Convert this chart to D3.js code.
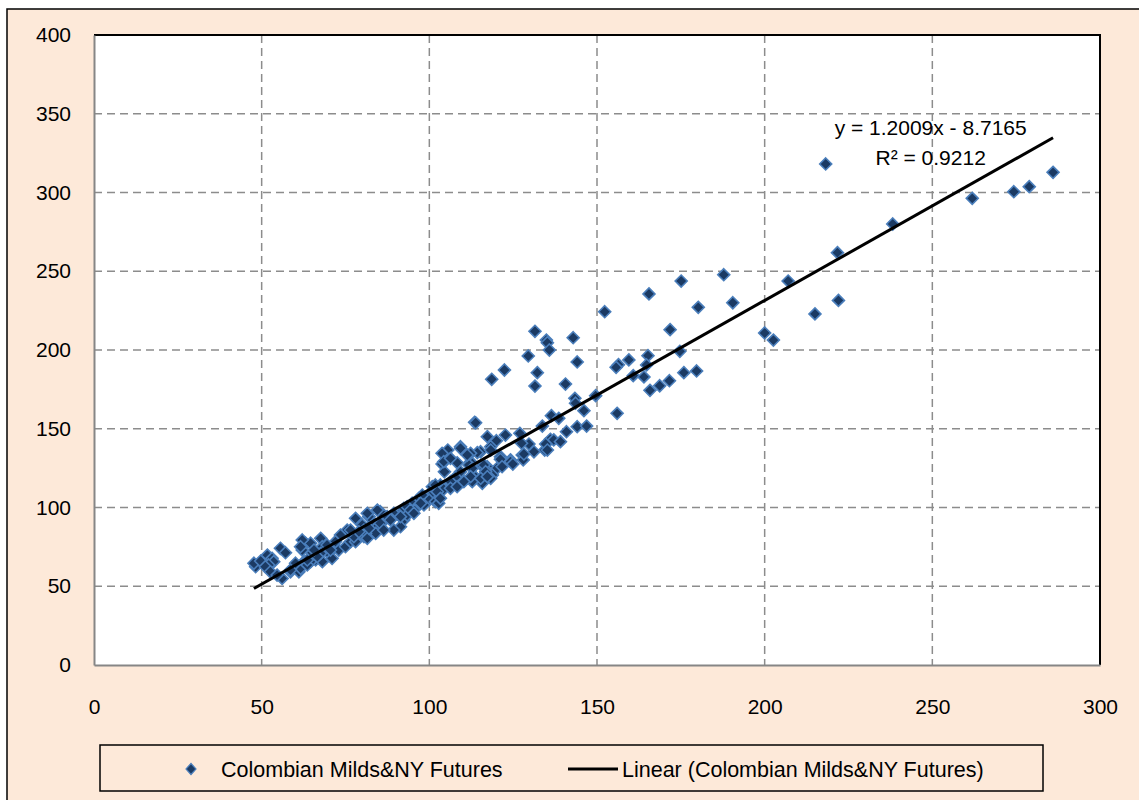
<!DOCTYPE html>
<html>
<head>
<meta charset="utf-8">
<script src="https://cdn.jsdelivr.net/npm/d3@7"></script>
<style>
    body { margin: 0; background: #ffffff; }
    text { font-family: "Liberation Sans", Arial, sans-serif; fill: #000; }
</style>
</head>
<body>
<div id="chart"></div>
<script>
// tick values of both axes
var xTicks = [0, 50, 100, 150, 200, 250, 300];
var yTicks = [0, 50, 100, 150, 200, 250, 300, 350, 400];

// Colombian Milds (x) against NY Futures (y)
var mildsVsFutures = [
    [286.0,312.8],[278.9,303.7],[274.3,300.5],[261.9,296.3],[238.2,280.0],[218.2,318.1],[221.7,261.8],[222.0,231.5],
    [207.0,243.8],[215.0,222.9],[200.0,210.8],[202.6,206.3],[187.8,247.8],[190.5,230.0],[180.2,227.1],[175.1,243.8],
    [165.5,235.6],[171.8,212.9],[174.7,199.2],[152.3,224.3],[156.4,190.7],[155.7,189.0],[159.5,193.7],[165.2,196.4],
    [164.8,190.5],[160.8,183.7],[164.0,182.9],[165.8,174.4],[168.7,177.3],[171.6,180.5],[175.9,185.6],[179.7,186.7],
    [149.6,171.0],[156.0,159.8],
    [131.5,211.9],[142.9,207.8],[134.9,206.3],[135.2,204.6],[135.8,200.0],[129.5,196.2],[144.1,192.4],[122.4,187.3],
    [132.2,185.6],[118.6,181.4],[131.5,177.1],[140.6,178.4],[143.4,169.3],[143.6,166.2],[146.1,161.5],[140.9,148.1],
    [144.1,151.3],[146.9,151.7],[136.4,158.3],[138.6,156.6],[133.7,151.7],[127.0,147.1],[136.1,143.3],[137.1,142.9],
    [139.1,141.8],[134.4,136.5],[131.2,135.4],[129.7,140.3],[127.5,140.8],[122.7,146.0],[117.3,145.0],[120.0,142.4],
    [127.7,133.3],[128.0,130.2],[115.3,135.4],[118.3,138.6],[121.2,132.3],[124.2,130.2],[117.3,125.9],[120.2,124.9],
    [113.5,154.1],[134.7,140.3],[128.2,134.0],[135.2,136.5],[118.3,136.5],[114.3,134.8],[121.2,130.6],[124.2,129.1],
    [124.9,127.6],[112.3,129.1],[115.8,126.3],[116.5,124.9],[113.8,119.2],[118.8,120.6],[121.7,125.9],[115.8,115.4],
    [112.8,116.4],[118.3,118.5],
    [105.5,136.5],[109.3,138.6],[103.8,127.6],[104.5,122.7],[108.3,128.4],[112.3,134.4],[111.8,127.0],[112.8,124.9],
    [109.3,122.7],[116.3,127.0],[116.8,122.7],[107.8,119.2],[106.3,116.4],[112.3,119.6],[115.3,118.5],[117.3,119.6],
    [103.3,114.3],[104.3,111.6],[101.8,109.0],[100.2,106.9],[99.9,104.8],[106.3,112.2],[108.3,113.2],[110.3,116.4],
    [96.9,105.8],[97.9,107.9],[101.8,103.7],[102.8,102.7],[98.4,101.6],[94.9,102.7],[95.4,98.4],[92.4,99.5],
    [90.9,95.2],[89.4,96.3],[88.4,93.1],[85.4,97.3],[86.9,92.5],[82.0,94.2],[83.4,90.0],[84.5,87.8],
    [80.0,88.9],[80.5,85.7],[92.4,92.1],[93.4,95.2],[80.5,81.5],[84.0,83.6],[91.4,87.8],[113.8,153.8],
    [103.8,134.4],[104.3,129.1],[109.3,137.6],[106.3,131.2],[111.3,133.3],[100.9,113.2],[101.8,114.3],[102.4,110.0],
    [103.3,105.8],[93.4,100.5],[94.4,98.4],[97.4,102.7],[95.4,96.3],
    [48.2,62.4],[47.7,64.6],[49.7,66.0],[51.7,69.8],[53.1,67.7],[53.6,65.6],[52.1,63.5],[51.1,62.4],
    [52.6,59.2],[55.6,74.1],[57.1,71.3],[56.1,55.0],[54.6,57.1],[58.6,59.2],[61.1,59.2],[61.6,61.4],
    [62.6,65.6],[63.1,77.3],[62.1,73.0],[65.1,71.3],[64.6,77.3],[67.6,80.4],[68.1,75.1],[66.1,66.7],
    [64.6,65.6],[63.6,63.5],[68.1,65.6],[70.0,70.9],[71.0,67.7],[73.0,73.0],[75.0,75.1],[76.5,78.3],
    [78.0,78.3],[75.5,85.7],[78.0,93.1],[77.5,81.5],[81.0,83.6],[81.5,80.4],[82.0,94.2],[79.0,84.6],
    [81.5,96.3],[84.5,98.4],[87.4,94.2],[88.4,92.1],[91.4,94.2],[85.4,90.0],[82.0,86.8],[89.4,85.7],
    [86.4,85.7],[76.5,85.7],[73.5,82.5],[72.0,78.3],[69.5,76.2],[70.5,73.0],[67.6,70.9],[66.6,68.8],
    [65.6,73.0],[63.6,66.7],[62.1,79.4],[61.6,75.1],[60.1,64.6],[58.6,60.3]
];

// trend line as printed on the chart
var slope = 1.2009, intercept = -8.7165, rSquared = 0.9212;
var seriesName = "Colombian Milds&NY Futures";
var trendName = "Linear (Colombian Milds&NY Futures)";

var W = 1139, H = 800;
var margin = {top: 35, right: 39, bottom: 135, left: 94},
    width = W - margin.left - margin.right,
    height = H - margin.top - margin.bottom;

var svg = d3.select("#chart").append("svg")
    .attr("width", W)
    .attr("height", H);

// outer chart area
svg.append("rect")
    .attr("x", 7).attr("y", 9)
    .attr("width", W + 20).attr("height", H + 20)
    .attr("fill", "#fde9d9")
    .attr("stroke", "#000")
    .attr("stroke-width", 1.5);

var g = svg.append("g")
    .attr("transform", "translate(" + margin.left + "," + margin.top + ")");

var x = d3.scaleLinear().domain([0, 300]).range([0, width]);
var y = d3.scaleLinear().domain([0, 400]).range([height, 0]);

g.append("rect")
    .attr("width", width).attr("height", height)
    .attr("fill", "#fff");

// dashed grid
g.selectAll(".vgrid")
    .data(xTicks.slice(1, -1))
    .enter().append("line")
    .attr("class", "vgrid")
    .attr("x1", function(d) { return x(d); })
    .attr("x2", function(d) { return x(d); })
    .attr("y1", 0).attr("y2", height)
    .attr("stroke", "#8c8c8c")
    .attr("stroke-width", 1.5)
    .attr("stroke-dasharray", "8,5");

g.selectAll(".hgrid")
    .data(yTicks.slice(1, -1))
    .enter().append("line")
    .attr("class", "hgrid")
    .attr("y1", function(d) { return y(d); })
    .attr("y2", function(d) { return y(d); })
    .attr("x1", 0).attr("x2", width)
    .attr("stroke", "#8c8c8c")
    .attr("stroke-width", 1.5)
    .attr("stroke-dasharray", "8,5");

// plot border: black top/right, grey axes
g.append("path")
    .attr("d", "M0,0H" + width + "V" + height)
    .attr("fill", "none")
    .attr("stroke", "#000")
    .attr("stroke-width", 2);

var xAxis = d3.axisBottom(x).tickValues(xTicks).tickSize(0).tickPadding(34);
var yAxis = d3.axisLeft(y).tickValues(yTicks).tickSize(0).tickPadding(23);

g.append("g")
    .attr("class", "x axis")
    .attr("transform", "translate(0," + height + ")")
    .call(xAxis);

g.append("g")
    .attr("class", "y axis")
    .call(yAxis);

g.selectAll(".axis path")
    .attr("stroke", "#868686")
    .attr("stroke-width", 2);
g.selectAll(".axis text")
    .style("font-family", "'Liberation Sans', Arial, sans-serif")
    .style("font-size", "21px")
    .attr("fill", "#000");

// points
var r = 6;
g.selectAll(".dot")
    .data(mildsVsFutures)
    .enter()
    .append("path")
    .attr("class", "dot")
    .attr("d", "M0," + (-r) + "L" + r + ",0L0," + r + "L" + (-r) + ",0Z")
    .attr("transform", function(d) { return "translate(" + x(d[0]) + "," + y(d[1]) + ")"; })
    .attr("fill", "#1b3a63")
    .attr("stroke", "#4a7ebb")
    .attr("stroke-width", 1.6);

// linear trend line over the range of the data
var xExt = d3.extent(mildsVsFutures, function(d) { return d[0]; });
var trend = xExt.map(function(v) { return [v, slope * v + intercept]; });

var line1 = d3.line()
    .x(function(d) { return x(d[0]); })
    .y(function(d) { return y(d[1]); });

g.append("path")
    .datum(trend)
    .attr("d", line1)
    .attr("fill", "none")
    .attr("stroke", "#000")
    .attr("stroke-width", 3);

// equation label
var eq = g.append("text")
    .attr("x", x(249.5))
    .attr("y", y(336.5))
    .style("text-anchor", "middle")
    .style("font-size", "21px");
eq.append("tspan").text("y = " + slope + "x - " + Math.abs(intercept));
eq.append("tspan")
    .attr("x", x(249.5)).attr("dy", 30)
    .text("R\u00b2 = " + rSquared);

// legend
var legend = svg.append("g");
legend.append("rect")
    .attr("x", 100).attr("y", 745)
    .attr("width", 943).attr("height", 46)
    .attr("fill", "none")
    .attr("stroke", "#000")
    .attr("stroke-width", 1.5);

legend.append("path")
    .attr("d", "M0,-5.5L5,0L0,5.5L-5,0Z")
    .attr("transform", "translate(191,769)")
    .attr("fill", "#1b3a63")
    .attr("stroke", "#4a7ebb")
    .attr("stroke-width", 1.2);

legend.append("text")
    .attr("x", 221).attr("y", 777)
    .style("font-size", "21.5px")
    .text(seriesName);

legend.append("line")
    .attr("x1", 568).attr("x2", 618)
    .attr("y1", 769).attr("y2", 769)
    .attr("stroke", "#000")
    .attr("stroke-width", 3);

legend.append("text")
    .attr("x", 622).attr("y", 777)
    .style("font-size", "21.5px")
    .text(trendName);
</script>
</body>
</html>
